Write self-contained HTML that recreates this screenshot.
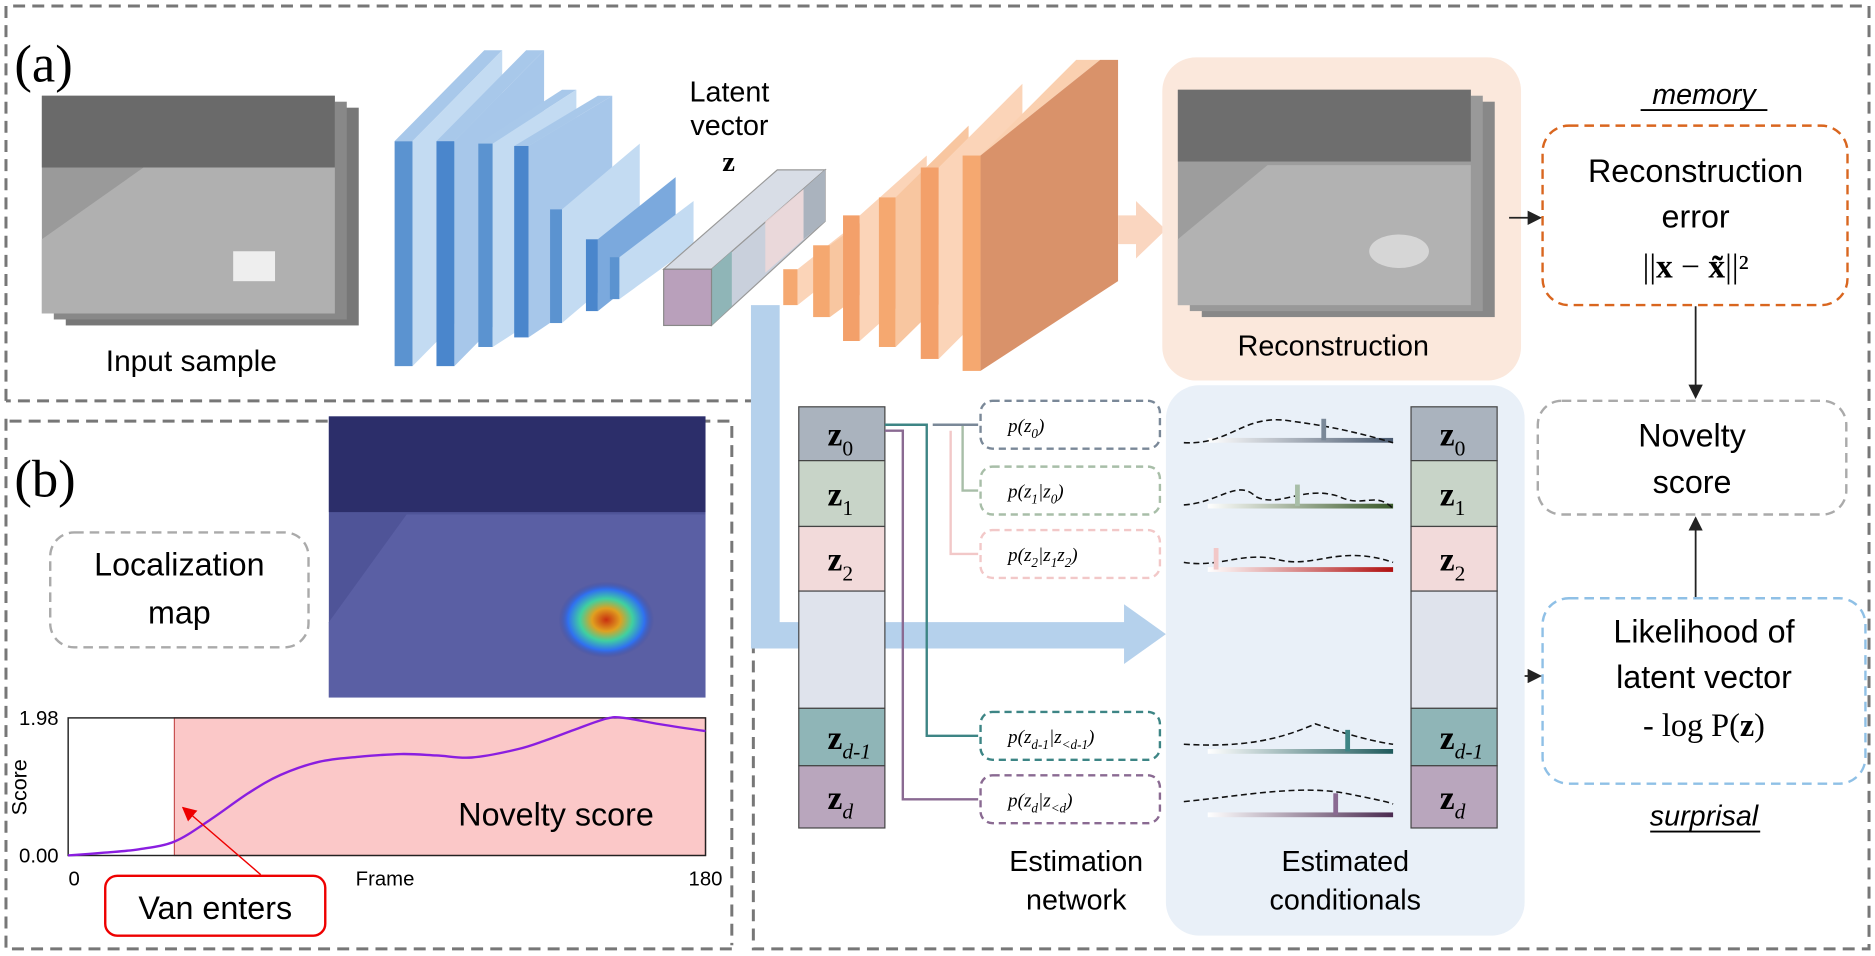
<!DOCTYPE html>
<html><head><meta charset="utf-8"><style>
body{margin:0;background:#fff}
svg{display:block;font-family:"Liberation Sans","DejaVu Sans",sans-serif}
.serif{font-family:"Liberation Serif",serif}
</style></head><body>
<svg width="1875" height="956" viewBox="0 0 1568 799" preserveAspectRatio="none">
<defs>
<marker id="ah" markerWidth="8" markerHeight="8" refX="7" refY="4" orient="auto"><path d="M0,0L8,4L0,8z" fill="#222"/></marker>
<marker id="ahr" markerWidth="10" markerHeight="10" refX="9" refY="5" orient="auto"><path d="M0,0L10,5L0,10z" fill="#e00"/></marker>
<linearGradient id="g0" x1="0" x2="1"><stop offset="0" stop-color="#fff"/><stop offset="1" stop-color="#4a5a70"/></linearGradient>
<linearGradient id="g1" x1="0" x2="1"><stop offset="0" stop-color="#fff"/><stop offset="1" stop-color="#3a5a2a"/></linearGradient>
<linearGradient id="g2" x1="0" x2="1"><stop offset="0" stop-color="#fff"/><stop offset="1" stop-color="#b01010"/></linearGradient>
<linearGradient id="g3" x1="0" x2="1"><stop offset="0" stop-color="#fff"/><stop offset="1" stop-color="#1f5a5c"/></linearGradient>
<linearGradient id="g4" x1="0" x2="1"><stop offset="0" stop-color="#fff"/><stop offset="1" stop-color="#4a2a50"/></linearGradient>
<radialGradient id="heat" cx="0.5" cy="0.5" r="0.5"><stop offset="0" stop-color="#c83010"/><stop offset="0.3" stop-color="#e0a020"/><stop offset="0.55" stop-color="#40d0a0"/><stop offset="0.8" stop-color="#3070f0"/><stop offset="1" stop-color="#3a4aa0" stop-opacity="0"/></radialGradient>
</defs>

<g fill="none" stroke="#777" stroke-width="2.5" stroke-dasharray="10,6">
<path d="M5,335 L5,5 L1563,5 L1563,793 L630,793 L630,335 L5,335"/>
<path d="M5,350 L5,793 L615,793"/>
<path d="M8,352 L612,352 L612,790"/>
</g>
<text x="12" y="68" class="serif" font-size="44">(a)</text>
<text x="12" y="415" class="serif" font-size="44">(b)</text>

<g>
<rect x="55" y="90" width="245" height="182" fill="#777"/>
<rect x="45" y="85" width="245" height="182" fill="#888"/>
<rect x="35" y="80" width="245" height="182" fill="#9a9a9a"/>
<rect x="35" y="80" width="245" height="60" fill="#6a6a6a"/>
<polygon points="35,200 120,140 280,140 280,262 35,262" fill="#b0b0b0"/>
<rect x="195" y="210" width="35" height="25" fill="#eee"/>
</g>
<text x="160" y="310" font-size="25" text-anchor="middle">Input sample</text>

<g>
<polygon points="330,118 405,42 420,42 345,118" fill="#a8c8ea"/><rect x="330" y="118" width="15" height="188" fill="#5b93d0"/><polygon points="345,118 420,42 420,230 345,306" fill="#c3dbf2"/>
<polygon points="365,118 440,42 455,42 380,118" fill="#a8c8ea"/><rect x="365" y="118" width="15" height="188" fill="#4a86cc"/><polygon points="380,118 455,42 455,230 380,306" fill="#a7c7ea"/>
<polygon points="400,120 470,75 482,75 412,120" fill="#a8c8ea"/><rect x="400" y="120" width="12" height="170" fill="#5b93d0"/><polygon points="412,120 482,75 482,245 412,290" fill="#c3dbf2"/>
<polygon points="430,122 500,80 512,80 442,122" fill="#a8c8ea"/><rect x="430" y="122" width="12" height="160" fill="#4a86cc"/><polygon points="442,122 512,80 512,235 442,282" fill="#a7c7ea"/>
<rect x="460" y="175" width="10" height="95" fill="#5b93d0"/><polygon points="470,175 535,120 535,215 470,270" fill="#c3dbf2"/>
<rect x="490" y="200" width="10" height="60" fill="#4a86cc"/><polygon points="500,200 565,148 565,208 500,260" fill="#7ba9dd"/>
<rect x="510" y="215" width="8" height="35" fill="#5b93d0"/><polygon points="518,215 580,168 580,205 518,250" fill="#c3dbf2"/>
</g>
<text x="610" y="85" font-size="24" text-anchor="middle">Latent</text>
<text x="610" y="113" font-size="24" text-anchor="middle">vector</text>
<text x="604" y="143" font-size="24" font-weight="bold" class="serif">z</text>
<g>
<polygon points="555,225 650,142 690,142 595,225" fill="#d8dde6" stroke="#999"/>
<polygon points="595,225 690,142 690,185 595,272" fill="#c9d0dc" stroke="#999"/>
<polygon points="595,225 612,210 612,256 595,272" fill="#8fb5b7"/>
<polygon points="640,185 672,158 672,200 640,228" fill="#f2dada" opacity="0.8"/>
<polygon points="672,158 690,142 690,185 672,200" fill="#aab3be"/>
<rect x="555" y="225" width="40" height="47" fill="#b9a0bb" stroke="#888"/>
</g>
<g fill="#b5d1ec">
<polygon points="628,255 652,255 652,520 940,520 940,505 975,530 940,555 940,542 628,542"/>
</g>
<g>
<rect x="655" y="225" width="12" height="30" fill="#f5a870"/><polygon points="667,225 705,195 705,225 667,255" fill="#fbd4b8"/>
<rect x="680" y="205" width="14" height="60" fill="#f5a870"/><polygon points="694,205 735,175 735,235 694,265" fill="#f8c6a0"/>
<rect x="705" y="180" width="14" height="105" fill="#f3a06a"/><polygon points="719,180 775,130 775,235 719,285" fill="#fbd4b8"/>
<rect x="735" y="165" width="14" height="125" fill="#f5a870"/><polygon points="749,165 810,105 810,230 749,290" fill="#f8c6a0"/>
<rect x="770" y="140" width="15" height="160" fill="#f3a06a"/><polygon points="785,140 855,70 855,230 785,300" fill="#fbd4b8"/>
<rect x="805" y="130" width="15" height="180" fill="#f5a870"/><polygon points="820,130 900,50 920,50 820,130" fill="#fad0b0"/><polygon points="820,130 920,50 935,50 935,235 820,310" fill="#d9926a"/>
</g>
<polygon points="935,180 950,180 950,168 975,192 950,216 950,204 935,204" fill="#fad6c0"/>
<rect x="972" y="48" width="300" height="270" rx="28" fill="#fbe8dc"/>
<g>
<rect x="1005" y="85" width="245" height="180" fill="#888"/>
<rect x="995" y="80" width="245" height="180" fill="#999"/>
<rect x="985" y="75" width="245" height="180" fill="#9d9d9d"/>
<rect x="985" y="75" width="245" height="60" fill="#6e6e6e"/>
<polygon points="985,200 1060,138 1230,138 1230,255 985,255" fill="#b2b2b2"/>
<ellipse cx="1170" cy="210" rx="25" ry="14" fill="#d6d6d6"/>
</g>
<text x="1115" y="297" font-size="24" text-anchor="middle">Reconstruction</text>

<text x="1425" y="87" font-size="24" font-style="italic" text-anchor="middle">memory</text>
<line x1="1372" y1="92" x2="1478" y2="92" stroke="#000" stroke-width="1.5"/>
<rect x="1290" y="105" width="255" height="150" rx="22" fill="none" stroke="#d9661f" stroke-width="2" stroke-dasharray="8,5"/>
<text x="1418" y="152" font-size="27" text-anchor="middle">Reconstruction</text>
<text x="1418" y="190" font-size="27" text-anchor="middle">error</text>
<text x="1418" y="232" font-size="28" text-anchor="middle" class="serif">||<tspan font-weight="bold">x</tspan> − <tspan font-weight="bold">x̃</tspan>||²</text>
<line x1="1262" y1="182" x2="1288" y2="182" stroke="#222" stroke-width="1.5" marker-end="url(#ah)"/>
<line x1="1418" y1="256" x2="1418" y2="332" stroke="#222" stroke-width="1.5" marker-end="url(#ah)"/>
<rect x="1286" y="335" width="258" height="95" rx="20" fill="none" stroke="#aaa" stroke-width="2" stroke-dasharray="8,5"/>
<text x="1415" y="373" font-size="27" text-anchor="middle">Novelty</text>
<text x="1415" y="412" font-size="27" text-anchor="middle">score</text>
<line x1="1418" y1="500" x2="1418" y2="433" stroke="#222" stroke-width="1.5" marker-end="url(#ah)"/>
<rect x="1290" y="500" width="270" height="155" rx="22" fill="none" stroke="#8fc0e6" stroke-width="2" stroke-dasharray="8,5"/>
<text x="1425" y="537" font-size="27" text-anchor="middle">Likelihood of</text>
<text x="1425" y="575" font-size="27" text-anchor="middle">latent vector</text>
<text x="1425" y="615" font-size="27" text-anchor="middle" class="serif">- log P(<tspan font-weight="bold">z</tspan>)</text>
<line x1="1252" y1="565" x2="1288" y2="565" stroke="#222" stroke-width="1.5" marker-end="url(#ah)"/>
<text x="1425" y="690" font-size="24" font-style="italic" text-anchor="middle">surprisal</text>
<line x1="1380" y1="695" x2="1472" y2="695" stroke="#000" stroke-width="1.5"/>

<rect x="975" y="322" width="300" height="460" rx="28" fill="#e9f0f8"/>
<g id="zcols"></g>
<g id="estnet"></g>
<text x="900" y="728" font-size="24" text-anchor="middle">Estimation</text>
<text x="900" y="760" font-size="24" text-anchor="middle">network</text>
<text x="1125" y="728" font-size="24" text-anchor="middle">Estimated</text>
<text x="1125" y="760" font-size="24" text-anchor="middle">conditionals</text>

<rect x="42" y="445" width="216" height="96" rx="20" fill="none" stroke="#aaa" stroke-width="2" stroke-dasharray="8,5"/>
<text x="150" y="481" font-size="27" text-anchor="middle">Localization</text>
<text x="150" y="521" font-size="27" text-anchor="middle">map</text>
<g>
<rect x="275" y="348" width="315" height="235" fill="#4f5498"/>
<rect x="275" y="348" width="315" height="80" fill="#2c2e6a"/>
<polygon points="275,520 340,430 590,430 590,583 275,583" fill="#5a5fa4"/>
<ellipse cx="507" cy="518" rx="40" ry="32" fill="url(#heat)"/>
</g>
<g id="chart"></g>

<g id="vanbox">
<rect x="88" y="732" width="184" height="50" rx="10" fill="#fff" stroke="#e00" stroke-width="2"/>
<text x="180" y="768" font-size="27" text-anchor="middle">Van enters</text>
<line x1="218" y1="731" x2="153" y2="675" stroke="#e00" stroke-width="1.2" marker-end="url(#ahr)"/>
</g>
</svg>
<script>
const NS='http://www.w3.org/2000/svg';
function mk(p,t,a,txt){const e=document.createElementNS(NS,t);for(const k in a)e.setAttribute(k,a[k]);if(txt!==undefined)e.textContent=txt;p.appendChild(e);return e;}

const frames=[0,10,20,30,40,51,60,71,82,94,104,114,127,135,143,152,157,167,180];
const scores=[0.0,0.04,0.09,0.2,0.51,0.9,1.16,1.35,1.42,1.46,1.44,1.41,1.53,1.66,1.81,1.97,1.98,1.89,1.79];
const yTicks=['0.00','1.98'];
const xTicks=['0','180'];
const vanFrame=30;
const X0=57,X1=590,Y0=715,Y1=600,FMAX=180,SMAX=1.98;
const sx=f=>X0+(f/FMAX)*(X1-X0);
const sy=v=>Y0-(v/SMAX)*(Y0-Y1);
const ch=document.getElementById('chart');
const bg=mk(ch,'rect',{x:X0,y:Y1,width:X1-X0,height:Y0-Y1,fill:'#fff'});


const pk=mk(ch,'rect',{x:sx(vanFrame),y:Y1,width:X1-sx(vanFrame),height:Y0-Y1,fill:'#fbc8c8',stroke:'#c85050','stroke-width':1});


const fr=mk(ch,'rect',{x:X0,y:Y1,width:X1-X0,height:Y0-Y1,fill:'none',stroke:'#222','stroke-width':1.2});


const P=frames.map((f,i)=>[sx(f),sy(scores[i])]);
let d='M'+P[0][0].toFixed(1)+','+P[0][1].toFixed(1);
for(let i=0;i<P.length-1;i++){const p0=P[Math.max(i-1,0)],p1=P[i],p2=P[i+1],p3=P[Math.min(i+2,P.length-1)];
 const c1=[p1[0]+(p2[0]-p0[0])/6,p1[1]+(p2[1]-p0[1])/6],c2=[p2[0]-(p3[0]-p1[0])/6,p2[1]-(p3[1]-p1[1])/6];
 d+=' C'+c1[0].toFixed(1)+','+c1[1].toFixed(1)+' '+c2[0].toFixed(1)+','+c2[1].toFixed(1)+' '+p2[0].toFixed(1)+','+p2[1].toFixed(1);}
const ln=mk(ch,'path',{d:d,fill:'none',stroke:'#8a1ee0','stroke-width':2,'stroke-linejoin':'round'});


yTicks.forEach((t,i)=>{const e=mk(ch,'text',{x:X0-8,y:sy(parseFloat(t))+6,'font-size':17,'text-anchor':'end'},t);

});
xTicks.forEach(t=>{const e=mk(ch,'text',{x:sx(parseFloat(t))+(t==='0'?5:0),y:740,'font-size':17,'text-anchor':'middle'},t);

});
const xt=mk(ch,'text',{x:322,y:740,'font-size':17,'text-anchor':'middle'},'Frame');


const yt=mk(ch,'text',{x:0,y:0,'font-size':18,'text-anchor':'middle',transform:'translate(22,658) rotate(-90)'},'Score');


const nt=mk(ch,'text',{x:465,y:690,'font-size':27,'text-anchor':'middle'},'Novelty score');



const segLabels=['0','1','2','','d-1','d'];
const segTops=[340,385,440,494,592,640,692];
const segFill=['#aab3be','#c8d4c8','#f2dada','#dfe3ec','#8fb5b7','#b9a6bd'];
const zc=document.getElementById('zcols');
[668,1180].forEach((cx,ci)=>{
 segLabels.forEach((s,i)=>{
  const r=mk(zc,'rect',{x:cx,y:segTops[i],width:72,height:segTops[i+1]-segTops[i],fill:segFill[i],stroke:'#444','stroke-width':1});
  
  
  if(s!==''){const t=mk(zc,'text',{x:cx+24,y:(segTops[i]+segTops[i+1])/2+10,'font-size':28,'font-weight':'bold','class':'serif'});
   
   
   t.innerHTML='z<tspan font-size="18" font-weight="normal" font-style="'+(s.startsWith('d')?'italic':'normal')+'" dy="8">'+s+'</tspan>';}
 });
});
const est=document.getElementById('estnet');
const pLabels=['p(z<tspan dy="5" font-size="11">0</tspan><tspan dy="-5">)</tspan>','p(z<tspan dy="5" font-size="11">1</tspan><tspan dy="-5">|z</tspan><tspan dy="5" font-size="11">0</tspan><tspan dy="-5">)</tspan>','p(z<tspan dy="5" font-size="11">2</tspan><tspan dy="-5">|z</tspan><tspan dy="5" font-size="11">1</tspan><tspan dy="-5">z</tspan><tspan dy="5" font-size="11">2</tspan><tspan dy="-5">)</tspan>','p(z<tspan dy="5" font-size="11">d-1</tspan><tspan dy="-5">|z</tspan><tspan dy="5" font-size="11">&lt;d-1</tspan><tspan dy="-5">)</tspan>','p(z<tspan dy="5" font-size="11">d</tspan><tspan dy="-5">|z</tspan><tspan dy="5" font-size="11">&lt;d</tspan><tspan dy="-5">)</tspan>'];
const pY=[355,410,463,615,668];
const pCol=['#7a8898','#a8bea8','#f2c8c8','#3d8585','#8a6a92'];
const grads=['g0','g1','g2','g3','g4'];
const markX=[1105,1083,1015,1125,1115];
const curves=['M990,370 C1030,372 1040,345 1080,352 C1110,356 1130,360 1165,370','M990,422 C1020,420 1035,400 1050,415 C1070,425 1090,405 1120,415 C1140,425 1150,410 1165,425','M990,470 C1020,475 1040,460 1070,468 C1100,475 1120,455 1165,470','M990,622 C1040,625 1070,618 1100,605 C1130,615 1150,620 1165,622','M990,670 C1040,665 1090,655 1130,664 C1150,668 1160,670 1165,672'];
pY.forEach((y,i)=>{
 const b=mk(est,'rect',{x:820,y:y-20,width:150,height:40,rx:10,fill:'#fff',stroke:pCol[i],'stroke-width':2,'stroke-dasharray':'6,4'});
 
 
 const t=mk(est,'text',{x:843,y:y+6,'font-size':16,'font-style':'italic','class':'serif'});
 t.innerHTML=pLabels[i];
 
 
 const bar=mk(est,'rect',{x:1010,y:y+11,width:155,height:4,fill:'url(#'+grads[i]+')'});
 
 
 const c=mk(est,'path',{d:curves[i],fill:'none',stroke:'#111','stroke-width':1.3,'stroke-dasharray':'5,3'});
 
 
 const m=mk(est,'rect',{x:markX[i],y:y-5,width:4,height:18,fill:pCol[i]});
 
 
});
const conn=[['#3d8585','M740,355 L775,355 L775,615 L818,615'],['#8a6a92','M740,360 L755,360 L755,668 L818,668'],['#a8bea8','M790,355 L805,355 L805,410 L818,410'],['#f2c8c8','M795,360 L795,463 L818,463'],['#7a8898','M780,355 L818,355']];
conn.forEach(c=>{const p=mk(est,'path',{d:c[1],fill:'none',stroke:c[0],'stroke-width':2});
 
 });
</script>
</body></html>
